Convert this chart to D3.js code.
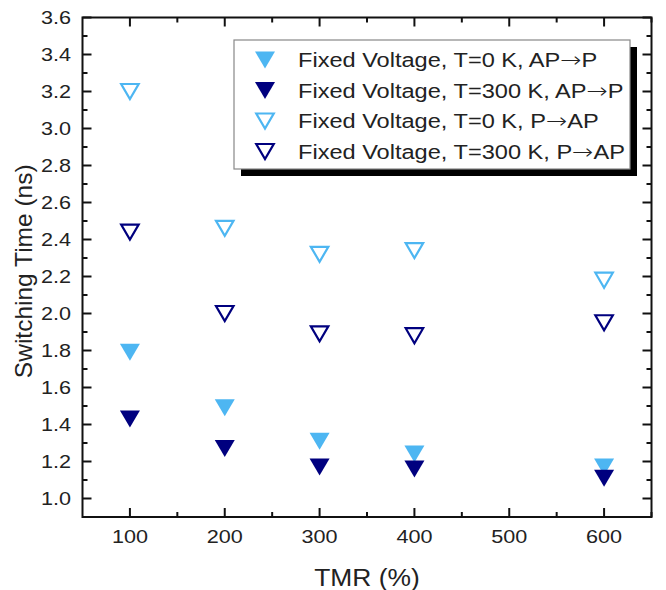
<!DOCTYPE html>
<html><head><meta charset="utf-8">
<script src="https://cdn.jsdelivr.net/npm/d3@7"></script>
<style>body{margin:0;background:#fff}svg{display:block}text{font-family:"Liberation Sans",Arial,sans-serif;fill:#222}</style>
</head><body><svg id="c" width="666" height="590"></svg>
<script>
const tmr = [100, 200, 300, 400, 600];
const fv0_APtoP   = [1.79, 1.49, 1.31, 1.24, 1.17];
const fv300_APtoP = [1.43, 1.27, 1.17, 1.16, 1.11];
const fv0_PtoAP   = [3.20, 2.46, 2.32, 2.34, 2.18];
const fv300_PtoAP = [2.44, 2.00, 1.89, 1.88, 1.95];
const seriesNames = ["Fixed Voltage, T=0 K, AP\u2192P","Fixed Voltage, T=300 K, AP\u2192P","Fixed Voltage, T=0 K, P\u2192AP","Fixed Voltage, T=300 K, P\u2192AP"];
const xTicks = [100, 200, 300, 400, 500, 600];
const yTicks = [1.0,1.2,1.4,1.6,1.8,2.0,2.2,2.4,2.6,2.8,3.0,3.2,3.4,3.6];
const LIGHT = "#4db6f2", DARK = "#00007f";
const series = [
  {name: seriesNames[0], vals: fv0_APtoP, color: LIGHT, filled: true},
  {name: seriesNames[1], vals: fv300_APtoP, color: DARK, filled: true},
  {name: seriesNames[2], vals: fv0_PtoAP, color: LIGHT, filled: false},
  {name: seriesNames[3], vals: fv300_PtoAP, color: DARK, filled: false}
];
const svg = d3.select("#c");
const L = 82.5, R = 651.5, T = 17.5, B = 517;
const x = d3.scaleLinear().domain([50, 650]).range([L, R]);
const y = d3.scaleLinear().domain([0.9, 3.6]).range([B, T]);
const SX = 1.2;

function tri(w, h){ return `M${-w/2},${-h/2}L${w/2},${-h/2}L0,${h/2}Z`; }

// ticks
const g = svg.append("g");
const xMinor = d3.range(150, 651, 100);
const yMinor = d3.range(1.1, 3.6, 0.2);
const tickStyle = s => s.attr("stroke","#111").attr("stroke-width",2);
xTicks.forEach(v=>{ tickStyle(g.append("line").attr("x1",x(v)).attr("x2",x(v)).attr("y1",B).attr("y2",B-9));
  tickStyle(g.append("line").attr("x1",x(v)).attr("x2",x(v)).attr("y1",T).attr("y2",T+9)); });
xMinor.forEach(v=>{ tickStyle(g.append("line").attr("x1",x(v)).attr("x2",x(v)).attr("y1",B).attr("y2",B-5));
  tickStyle(g.append("line").attr("x1",x(v)).attr("x2",x(v)).attr("y1",T).attr("y2",T+5)); });
yTicks.forEach(v=>{ tickStyle(g.append("line").attr("y1",y(v)).attr("y2",y(v)).attr("x1",L).attr("x2",L+9));
  tickStyle(g.append("line").attr("y1",y(v)).attr("y2",y(v)).attr("x1",R).attr("x2",R-9)); });
yMinor.forEach(v=>{ tickStyle(g.append("line").attr("y1",y(v)).attr("y2",y(v)).attr("x1",L).attr("x2",L+5));
  tickStyle(g.append("line").attr("y1",y(v)).attr("y2",y(v)).attr("x1",R).attr("x2",R-5)); });
svg.append("rect").attr("x",L).attr("y",T).attr("width",R-L).attr("height",B-T)
  .attr("fill","none").attr("stroke","#111").attr("stroke-width",2);

// tick labels
xTicks.forEach(v=>{
  svg.append("text").attr("transform",`translate(${x(v)},${543}) scale(${SX},1)`)
    .attr("text-anchor","middle").attr("font-size",18).text(v);
});
yTicks.forEach(v=>{
  svg.append("text").attr("transform",`translate(${71},${y(v)+6.5}) scale(${SX},1)`)
    .attr("text-anchor","end").attr("font-size",18).text(v.toFixed(1));
});
svg.append("text").attr("transform",`translate(${x(350)},586) scale(1.1,1)`)
  .attr("text-anchor","middle").attr("font-size",24).text("TMR (%)");
svg.append("text").attr("transform",`translate(32,${(T+B)/2+4}) rotate(-90)`)
  .attr("text-anchor","middle").attr("font-size",24.5).text("Switching Time (ns)");

// markers
series.forEach(s=>{
  svg.append("g").selectAll("path").data(s.vals).join("path")
    .attr("d", s.filled ? tri(20,17) : tri(17.5,15))
    .attr("transform",(d,i)=>`translate(${x(tmr[i])},${y(d)})`)
    .attr("fill", s.filled ? s.color : "none")
    .attr("stroke", s.filled ? "none" : s.color)
    .attr("stroke-width", 2.2);
});

// legend
const lg = svg.append("g");
lg.append("rect").attr("x",241).attr("y",47).attr("width",396).attr("height",129).attr("fill","#000");
lg.append("rect").attr("x",234).attr("y",40).attr("width",396).attr("height",129).attr("fill","#fff").attr("stroke","#888").attr("stroke-width",1.2);
series.forEach((s,i)=>{
  const cy = 60 + i*30.5;
  lg.append("path").attr("d", s.filled ? tri(20,17) : tri(17.5,15))
    .attr("transform",`translate(265,${cy})`)
    .attr("fill", s.filled ? s.color : "none")
    .attr("stroke", s.filled ? "none" : s.color).attr("stroke-width",2.2);
  const t = lg.append("text").attr("transform",`translate(298,${cy+7}) scale(1.21,1)`)
    .attr("font-size",19.5);
  const parts = s.name.split("\u2192");
  t.append("tspan").text(parts[0]);
  t.append("tspan").attr("font-family","DejaVu Sans").attr("font-weight","200").attr("font-size",21).text("\u2192");
  t.append("tspan").text(parts[1]);
});
</script></body></html>
